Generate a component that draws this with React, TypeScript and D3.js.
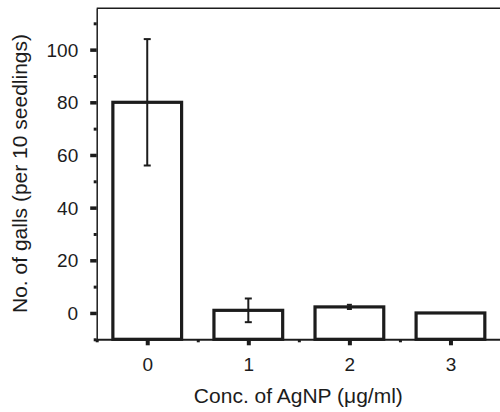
import React, { useEffect, useRef } from "react";
import * as d3 from "d3";

const categories = [0, 1, 2, 3];
const means = [80, 1, 2.3, 0];
const errors = [24, 4.5, 0.8, 0];
const yMajorTicks = [0, 20, 40, 60, 80, 100];
const yMinorTicks = [-10, 10, 30, 50, 70, 90, 110];
const xMinorTicks = [-0.5, 0.5, 1.5, 2.5, 3.5];
const xLabel = "Conc. of AgNP (μg/ml)";
const yLabel = "No. of galls (per 10 seedlings)";

const W = 500;
const H = 412;
const left = 96.7;
const right = 501;
const top = 8.3;
const bottom = 339.3;
const ink = "#1c1c1c";
const font = "'Liberation Sans', Arial, Helvetica, sans-serif";

export default function App() {
  const ref = useRef<SVGSVGElement>(null);

  useEffect(() => {
    const svg = d3.select(ref.current);
    svg.selectAll("*").remove();

    const x = d3.scaleLinear().domain([-0.5, 3.5]).range([left, right]);
    const y = d3.scaleLinear().domain([-10, 115.7]).range([bottom, top]);
    const barW = x(0.68) - x(0);

    // top frame line
    svg.append("line")
      .attr("x1", left).attr("x2", W).attr("y1", top).attr("y2", top)
      .attr("stroke", ink).attr("stroke-width", 1.5);

    // bars
    svg.append("g").selectAll("rect").data(categories).join("rect")
      .attr("x", (d) => x(d) - barW / 2)
      .attr("width", barW)
      .attr("y", (d, i) => y(means[i]))
      .attr("height", (d, i) => y(-10) - y(means[i]))
      .attr("fill", "white")
      .attr("stroke", ink)
      .attr("stroke-width", 3.2);

    // error bars
    const eb = svg.append("g");
    categories.forEach((c, i) => {
      if (errors[i] <= 0) return;
      const cx = x(c);
      const cap = errors[i] > 2 ? 3.5 : 2.5;
      eb.append("line").attr("x1", cx).attr("x2", cx)
        .attr("y1", y(means[i] - errors[i])).attr("y2", y(means[i] + errors[i]))
        .attr("stroke", ink).attr("stroke-width", 2);
      [means[i] - errors[i], means[i] + errors[i]].forEach((v) => {
        eb.append("line").attr("x1", cx - cap).attr("x2", cx + cap)
          .attr("y1", y(v)).attr("y2", y(v))
          .attr("stroke", ink).attr("stroke-width", 2);
      });
    });

    // y axis
    const yAxis = svg.append("g").attr("transform", `translate(${left},0)`)
      .call(d3.axisLeft(y).tickValues(yMajorTicks).tickFormat(d3.format("d")).tickSize(6.5).tickPadding(12).tickSizeOuter(0));
    yAxis.select(".domain").attr("stroke", ink).attr("stroke-width", 1.5);
    yAxis.selectAll(".tick line").attr("stroke", ink).attr("stroke-width", 3.5);
    yAxis.selectAll(".tick text").attr("font-size", 19).attr("font-family", font).attr("fill", ink).attr("dy", "0.35em");
    const yMinor = svg.append("g").attr("transform", `translate(${left},0)`)
      .call(d3.axisLeft(y).tickValues(yMinorTicks).tickSize(3).tickFormat(() => "").tickSizeOuter(0));
    yMinor.select(".domain").remove();
    yMinor.selectAll(".tick line").attr("stroke", ink).attr("stroke-width", 3);

    // x axis
    const xAxis = svg.append("g").attr("transform", `translate(0,${bottom})`)
      .call(d3.axisBottom(x).tickValues(categories).tickFormat(d3.format("d")).tickSize(6).tickPadding(12).tickSizeOuter(0));
    xAxis.select(".domain").attr("stroke", ink).attr("stroke-width", 2);
    xAxis.selectAll(".tick line").attr("stroke", ink).attr("stroke-width", 4);
    xAxis.selectAll(".tick text").attr("font-size", 19).attr("font-family", font).attr("fill", ink);
    const xMinor = svg.append("g").attr("transform", `translate(0,${bottom})`)
      .call(d3.axisBottom(x).tickValues(xMinorTicks).tickSize(3).tickFormat(() => "").tickSizeOuter(0));
    xMinor.select(".domain").remove();
    xMinor.selectAll(".tick line").attr("stroke", ink).attr("stroke-width", 3);

    // axis titles
    svg.append("text")
      .attr("x", (left + W) / 2).attr("y", 402.7)
      .attr("text-anchor", "middle")
      .attr("font-size", 21).attr("font-family", font).attr("fill", ink)
      .text(xLabel);
    svg.append("text")
      .attr("transform", `translate(27,173.5) rotate(-90)`)
      .attr("text-anchor", "middle")
      .attr("font-size", 21).attr("font-family", font).attr("fill", ink)
      .text(yLabel);
  }, []);

  return (
    <svg
      ref={ref}
      width={W}
      height={H}
      style={{ position: "absolute", left: 0, top: 0, background: "white" }}
    />
  );
}
